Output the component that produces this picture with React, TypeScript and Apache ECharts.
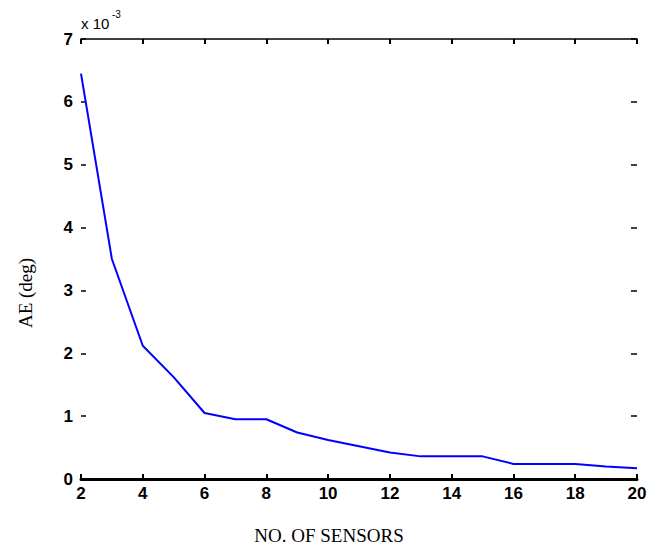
import React, { useEffect, useRef } from "react";
import * as echarts from "echarts";

const sensors = [2, 3, 4, 5, 6, 7, 8, 9, 10, 11, 12, 13, 14, 15, 16, 17, 18, 19, 20];
const aeValues = [6.45, 3.5, 2.12, 1.62, 1.05, 0.95, 0.95, 0.74, 0.62, 0.52, 0.42, 0.36, 0.36, 0.36, 0.24, 0.24, 0.24, 0.2, 0.17];
const xTitle = "NO. OF SENSORS";
const yTitle = "AE (deg)";

const tickFont = '"Liberation Sans Narrow", "Arial Narrow", "Liberation Sans", Arial, sans-serif';
const serifFont = '"Liberation Serif", "Times New Roman", serif';

export default function App() {
  const ref = useRef<HTMLDivElement>(null);
  useEffect(() => {
    if (!ref.current) return;
    const chart = echarts.init(ref.current, null, { renderer: "svg" });
    const data = sensors.map((s, i) => [s, aeValues[i]]);
    const labelStyle = () => ({ color: "#000", fontFamily: tickFont, fontSize: 17, fontWeight: "bold" as const });
    const ls = () => ({ color: "#000", width: 1.5, opacity: 1 });
    chart.setOption({
      animation: false,
      backgroundColor: "#fff",
      grid: { left: 81, right: 20, top: 39, bottom: 69 },
      xAxis: [
        {
          type: "value",
          min: 2,
          max: 20,
          interval: 2,
          position: "bottom",
          offset: 0,
          z: 10,
          axisLine: { show: true, onZero: false, lineStyle: { color: "#000000", width: 3 } },
          axisTick: { show: true, inside: true, length: 5, lineStyle: { color: "#000000", width: 2 } },
          axisLabel: { ...labelStyle(), margin: 6 },
          splitLine: { show: false },
        },
        {
          type: "value",
          min: 2,
          max: 20,
          interval: 2,
          position: "top",
          offset: 0,
          z: 10,
          axisLine: { show: true, onZero: false, lineStyle: { color: "#000000", width: 1.5 } },
          axisTick: { show: true, inside: true, length: 5, lineStyle: { color: "#000000", width: 2 } },
          axisLabel: { show: false },
          splitLine: { show: false },
        },
      ],
      yAxis: [
        {
          type: "value",
          min: 0,
          max: 7,
          interval: 1,
          position: "left",
          axisLine: { show: false, onZero: false },
          axisTick: { show: true, inside: true, length: 5, lineStyle: ls() },
          axisLabel: { ...labelStyle(), margin: 8 },
          splitLine: { show: false },
        },
        {
          type: "value",
          min: 0,
          max: 7,
          interval: 1,
          position: "right",
          axisLine: { show: false, onZero: false },
          axisTick: { show: true, inside: true, length: 6, lineStyle: ls() },
          axisLabel: { show: false },
          splitLine: { show: false },
        },
      ],
      series: [
        {
          type: "line",
          xAxisIndex: 0,
          yAxisIndex: 0,
          data,
          showSymbol: false,
          symbol: "none",
          lineStyle: { color: "#0000ff", width: 2 },
        },
      ],
      graphic: [
        {
          type: "text",
          left: 81,
          top: 16,
          style: { text: "x 10", fill: "#000", font: '15px "Liberation Sans", Arial, sans-serif' },
        },
        {
          type: "text",
          left: 112,
          top: 9,
          style: { text: "-3", fill: "#000", font: '10px "Liberation Sans", Arial, sans-serif' },
        },
        {
          type: "text",
          x: 329,
          y: 535,
          style: {
            text: xTitle,
            fill: "#000",
            font: `19px ${serifFont}`,
            align: "center",
            verticalAlign: "middle",
          },
        },
        {
          type: "text",
          x: 25,
          y: 293,
          rotation: Math.PI / 2,
          style: {
            text: yTitle,
            fill: "#000",
            font: `19px ${serifFont}`,
            align: "center",
            verticalAlign: "middle",
          },
        },
      ],
    });
    return () => chart.dispose();
  }, []);
  return (
    <div
      ref={ref}
      style={{ position: "fixed", left: 0, top: 0, width: 657, height: 548, background: "#fff" }}
    />
  );
}
